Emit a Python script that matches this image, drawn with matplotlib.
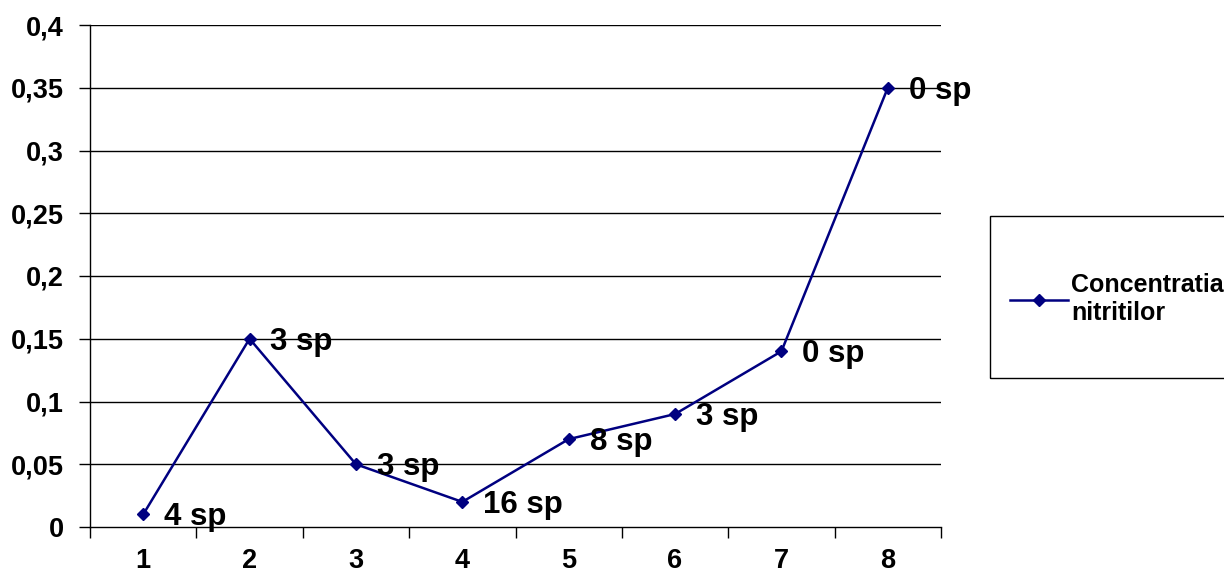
import matplotlib
matplotlib.use("Agg")
import matplotlib.pyplot as plt
from matplotlib.patches import Rectangle
from matplotlib.lines import Line2D

plt.rcParams['font.family'] = ['Liberation Sans', 'DejaVu Sans']
plt.rcParams['font.weight'] = 'bold'

# Sampling points and measured nitrite concentration
categories = ["1", "2", "3", "4", "5", "6", "7", "8"]
concentration = [0.01, 0.15, 0.05, 0.02, 0.07, 0.09, 0.14, 0.35]
species_labels = ["4 sp", "3 sp", "3 sp", "16 sp", "8 sp", "3 sp", "0 sp", "0 sp"]
y_ticks = [0, 0.05, 0.1, 0.15, 0.2, 0.25, 0.3, 0.35, 0.4]
y_tick_labels = ["0", "0,05", "0,1", "0,15", "0,2", "0,25", "0,3", "0,35", "0,4"]
series_name = "Concentratia\nnitritilor"

line_color = "#000080"

fig = plt.figure(figsize=(12.24, 5.72), dpi=100)
ax = fig.add_axes([90 / 1224, 1 - 527 / 572, (941 - 90) / 1224, (527 - 25) / 572])

x = list(range(1, len(categories) + 1))
ax.plot(x, concentration, color=line_color, lw=1.8, marker="D", markersize=6,
        zorder=3, clip_on=False)

for xi, yi, lab in zip(x, concentration, species_labels):
    ax.annotate(lab, (xi, yi), xytext=(15, -2), textcoords="offset points",
                ha="left", va="center", fontsize=22.5, fontweight="bold", zorder=4)

ax.set_xlim(0.5, len(categories) + 0.5)
ax.set_ylim(0, 0.4)

# Gridlines
for yt in y_ticks[1:]:
    ax.axhline(yt, color="black", lw=1, zorder=1)

ax.set_yticks(y_ticks)
ax.set_yticklabels(y_tick_labels)
ax.tick_params(axis="y", direction="out", length=8, width=1, pad=11,
               labelsize=19.5, colors="black")

# Ticks at category boundaries, labels at category centres
ax.set_xticks([i + 0.5 for i in range(0, len(categories) + 1)])
ax.set_xticklabels([])
ax.set_xticks(x, minor=True)
ax.set_xticklabels(categories, minor=True)
ax.tick_params(axis="x", which="major", direction="out", length=8, width=1)
ax.tick_params(axis="x", which="minor", length=0, pad=15, labelsize=19.5)

for lab in ax.get_xticklabels(minor=True) + ax.get_yticklabels():
    lab.set_fontweight("bold")

ax.spines["top"].set_visible(False)
ax.spines["right"].set_visible(False)
ax.spines["left"].set_linewidth(1)
ax.spines["bottom"].set_linewidth(1)

# Legend box
fig.patches.append(Rectangle((990 / 1224, 1 - 378 / 572), 260 / 1224, 162 / 572,
                             transform=fig.transFigure, fill=False,
                             edgecolor="black", lw=1))
handle = Line2D([], [], color=line_color, lw=1.8, marker="D", markersize=6)
fig.legend([handle], [series_name], loc="center left",
           bbox_to_anchor=(1010 / 1224, 1 - 299 / 572), frameon=False,
           prop={"size": 18, "weight": "bold"}, handlelength=2.3,
           handletextpad=0.15, borderaxespad=0, borderpad=0)

fig.savefig("out.png", dpi=100)
